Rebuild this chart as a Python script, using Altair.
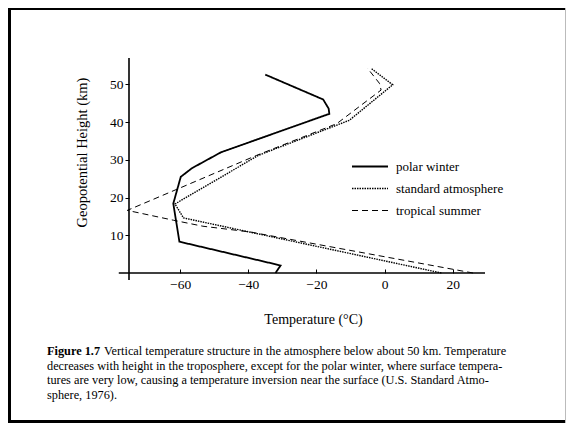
import altair as alt
import pandas as pd

# ---- data ----
series_names = ["polar winter", "standard atmosphere", "tropical summer"]

polar_T = [-32, -30.5, -60.2, -62, -59.8, -56.5, -48, -16.2, -16.4, -18, -35]
polar_H = [0, 2, 8.3, 18.4, 25.5, 27.8, 32, 42.2, 43.6, 46, 52.6]

std_T = [16.7, -59, -61.5, -37, -10.3, 2.4, -4]
std_H = [0, 14.6, 18.3, 31.2, 40.5, 49.9, 54.3]

trop_T = [26, -39.6, -53.3, -62, -75.5, -37.5, -14, -1, -1.5, -5]
trop_H = [0, 10.9, 12.4, 14, 16.6, 31.2, 39.6, 48.5, 50.3, 54.3]

x_ticks = [-60, -40, -20, 0, 20]
y_ticks = [10, 20, 30, 40, 50]
x_domain = [-75, 29.5]
y_domain = [0, 57]
x_axis_span = [-78, 29.5]
y_axis_span = [-1.85, 57]

caption_bold = "Figure 1.7"
caption_lines = [
    "Vertical temperature structure in the atmosphere below about 50 km.  Temperature",
    "decreases with height in the troposphere, except for the polar winter, where surface tempera-",
    "tures are very low, causing a temperature inversion near the surface (U.S. Standard Atmo-",
    "sphere, 1976).",
]

rows = []
for name, Ts, Hs in [(series_names[0], polar_T, polar_H),
                     (series_names[1], std_T, std_H),
                     (series_names[2], trop_T, trop_H)]:
    for i, (t, h) in enumerate(zip(Ts, Hs)):
        rows.append({"series": name, "T": t, "H": h, "i": i})
df = pd.DataFrame(rows)

FONT = "Liberation Serif"
W, H = 356, 215
PAD = {"left": 121, "top": 50, "right": 81, "bottom": 150}

xscale = alt.Scale(domain=x_domain, nice=False, zero=False)
yscale = alt.Scale(domain=y_domain, nice=False, zero=False)

legend_kw = dict(
    orient="none", legendX=222, legendY=102, title=None,
    symbolType="stroke", symbolSize=1296, symbolStrokeColor="black",
    labelFont=FONT, labelFontSize=13, labelColor="black", labelOffset=7,
    clipHeight=13, rowPadding=8, padding=0,
)

lines = alt.Chart(df).mark_line(color="black", clip=False).encode(
    x=alt.X("T:Q", scale=xscale, axis=alt.Axis(
        values=x_ticks, domain=False, grid=False, tickSize=4, offset=-4,
        tickColor="black", labelPadding=4, labelFont=FONT, labelFontSize=13.5,
        labelColor="black", title="Temperature (°C)", titleFont=FONT,
        titleFontSize=14, titleFontWeight="normal", titleColor="black",
        titleX=184, titleY=50, titleBaseline="middle", titleAlign="center")),
    y=alt.Y("H:Q", scale=yscale, axis=alt.Axis(
        values=y_ticks, domain=False, grid=False, tickSize=4,
        tickColor="black", labelPadding=2, labelFont=FONT, labelFontSize=13.5,
        labelColor="black", title="Geopotential Height (km)", titleFont=FONT,
        titleFontSize=14.5, titleFontWeight="normal", titleColor="black",
        titleX=-47, titleY=94, titleBaseline="middle", titleAlign="center")),
    order="i:Q",
    strokeDash=alt.StrokeDash("series:N", scale=alt.Scale(
        domain=series_names, range=[[1, 0], [1.5, 1], [6, 4]]),
        legend=alt.Legend(**legend_kw)),
    strokeWidth=alt.StrokeWidth("series:N", scale=alt.Scale(
        domain=series_names, range=[1.8, 1, 1.5]),
        legend=alt.Legend(**legend_kw)),
)

one = pd.DataFrame({"a": [0]})
x_axis_line = alt.Chart(one).mark_rule(color="black", strokeWidth=1.6, clip=False).encode(
    x=alt.datum(x_axis_span[0], scale=xscale), x2=alt.datum(x_axis_span[1]),
    y=alt.datum(0, scale=yscale))
y_axis_line = alt.Chart(one).mark_rule(color="black", strokeWidth=1.6, clip=False).encode(
    x=alt.datum(x_domain[0], scale=xscale),
    y=alt.datum(y_axis_span[0], scale=yscale), y2=alt.datum(y_axis_span[1]))

# caption
CAP_FS = 12.3
cap_x = -82
cap_y = [293, 307.5, 322, 336.5]
cap_layers = [
    alt.Chart(one).mark_text(font=FONT, fontSize=CAP_FS, fontWeight="bold", align="left",
                             baseline="middle", color="black").encode(
        x=alt.value(cap_x), y=alt.value(cap_y[0]), text=alt.value(caption_bold)),
    alt.Chart(one).mark_text(font=FONT, fontSize=CAP_FS, align="left",
                             baseline="middle", color="black").encode(
        x=alt.value(cap_x + 57), y=alt.value(cap_y[0]), text=alt.value(caption_lines[0])),
]
for k in range(1, 4):
    cap_layers.append(
        alt.Chart(one).mark_text(font=FONT, fontSize=CAP_FS, align="left",
                                 baseline="middle", color="black").encode(
            x=alt.value(cap_x), y=alt.value(cap_y[k]), text=alt.value(caption_lines[k])))

# page frame
frame = [
    alt.Chart(one).mark_rule(color="black", strokeWidth=3, clip=False).encode(
        x=alt.value(-119.5), y=alt.value(-50), y2=alt.value(365)),
    alt.Chart(one).mark_rule(color="black", strokeWidth=2, clip=False).encode(
        x=alt.value(-121), x2=alt.value(437), y=alt.value(-49)),
    alt.Chart(one).mark_rule(color="black", strokeWidth=3, clip=False).encode(
        x=alt.value(-121), x2=alt.value(437), y=alt.value(363.5)),
    alt.Chart(one).mark_rule(color="#bbbbbb", strokeWidth=1, clip=False).encode(
        x=alt.value(436.5), y=alt.value(-50), y2=alt.value(365)),
]

chart = alt.layer(lines, x_axis_line, y_axis_line, *cap_layers, *frame).properties(
    width=W, height=H, padding=PAD,
    autosize=alt.AutoSizeParams(type="none"),
    background="white",
).configure_view(stroke=None)

chart.save("out.html", embed_options={"renderer": "svg", "actions": False})
